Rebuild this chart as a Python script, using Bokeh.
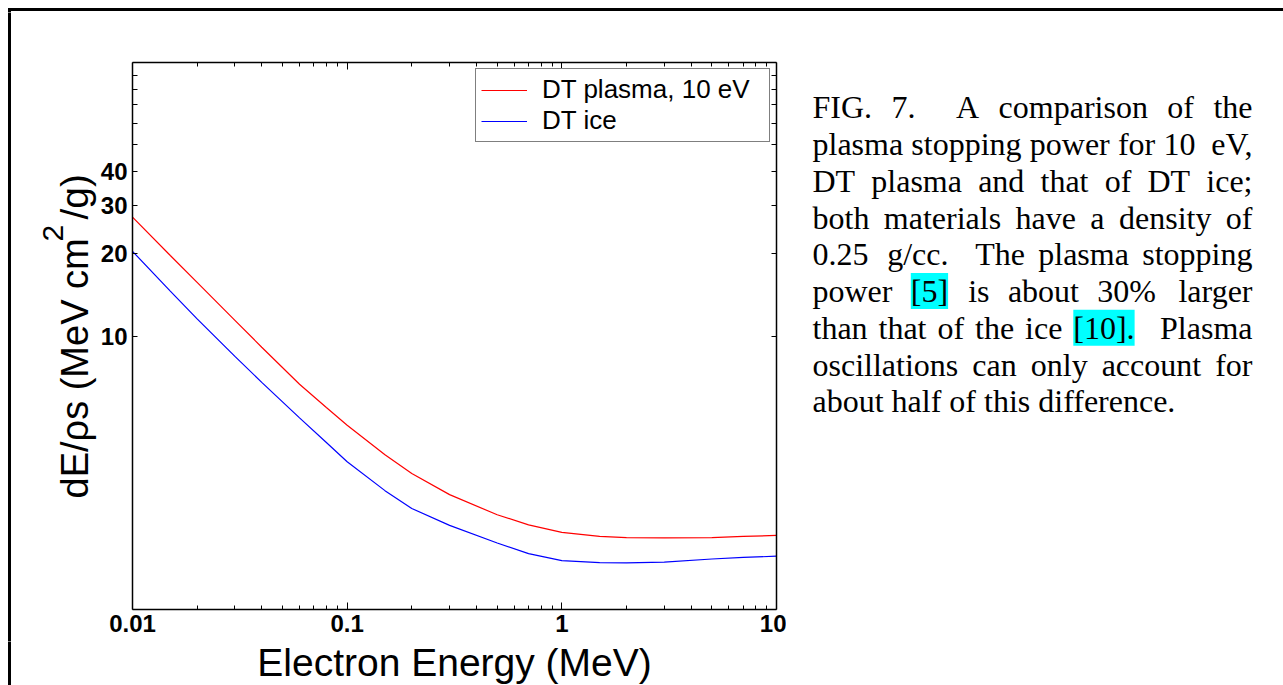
import re

from bokeh.embed import file_html
from bokeh.layouts import column, row
from bokeh.models import FixedTicker, Label, Legend, LegendItem, LogAxis, Range1d
from bokeh.plotting import figure
from bokeh.resources import INLINE

# ---- data: stopping power of DT plasma (10 eV) and DT ice vs electron energy
energy_mev = [0.01, 0.015, 0.02, 0.03, 0.04, 0.06, 0.08, 0.1, 0.15, 0.2,
              0.3, 0.5, 0.7, 1.0, 1.5, 2.0, 3.0, 5.0, 7.0, 10.0]
dt_plasma = [27.2, 19.7, 15.7, 11.4, 9.1, 6.66, 5.48, 4.72, 3.68, 3.14,
             2.63, 2.22, 2.04, 1.915, 1.85, 1.832, 1.828, 1.83, 1.85, 1.865]
dt_ice = [20.4, 14.6, 11.55, 8.42, 6.77, 5.02, 4.08, 3.47, 2.72, 2.34,
          2.03, 1.75, 1.60, 1.51, 1.485, 1.48, 1.49, 1.53, 1.55, 1.566]

series_names = ["DT plasma, 10 eV", "DT ice"]
series_colors = ["#ff0000", "#0000ff"]

x_major_ticks = [0.01, 0.1, 1, 10]
x_tick_labels = ["0.01", "0.1", "1", "10"]
x_minor_ticks = [m * d for d in (0.01, 0.1, 1) for m in range(2, 10)]
y_major_ticks = [10, 20, 30, 40]
y_tick_labels = ["10", "20", "30", "40"]
y_minor_ticks = [50, 60, 70, 80, 90]

x_title = "Electron Energy (MeV)"
y_title_parts = ["dE/\u03c1s (MeV cm", "2", "/g)"]

caption_lines = [
    "FIG. 7.  A comparison of the",
    "plasma stopping power for 10 eV,",
    "DT plasma and that of DT ice;",
    "both materials have a density of",
    "0.25 g/cc.  The plasma stopping",
    "power [5] is about 30% larger",
    "than that of the ice [10].  Plasma",
    "oscillations can only account for",
    "about half of this difference.",
]
highlighted = {"[5]", "[10]."}

# ---- page geometry (pixels, from the top-left corner of the page)
W, H = 1283, 685
TOP_STRIP = 12          # height of the strip holding the top rule
LEFT_W = 97             # width of the strip holding the rule and the y title
MAIN_R = 786            # right edge of the chart panel
BOTTOM_Y = 641          # top of the strip holding the x title
FL, FR, FT, FB = 132, 776, 62, 609   # plot frame
BASELINE_FIX = 0.38     # label anchor -> alphabetic baseline offset, in em

# advance widths (1/1000 em) used to lay text out ourselves
TIMES = {" ": 250, "%": 833, ",": 250, ".": 250, "/": 278, ";": 278, ":": 278,
         "[": 333, "]": 333, "A": 722, "D": 722, "F": 556, "G": 722, "I": 333,
         "P": 556, "T": 611, "V": 722, "a": 444, "b": 500, "c": 444, "d": 500,
         "e": 444, "f": 333, "g": 500, "h": 500, "i": 278, "k": 500, "l": 278,
         "m": 778, "n": 500, "o": 500, "p": 500, "r": 333, "s": 389, "t": 278,
         "u": 500, "v": 500, "w": 722, "x": 500, "y": 500, "z": 444}
ARIAL = {" ": 278, "(": 333, ")": 333, "E": 667, "M": 833, "V": 667, "c": 500,
         "e": 556, "g": 556, "l": 222, "n": 556, "o": 556, "r": 333, "t": 278,
         "y": 500}


def text_w(s, table, size):
    return sum(table.get(c, 556) for c in s) * size / 1000.0


def sheet(x0, x1, y0, y1):
    """A bare figure whose data coordinates are page pixels."""
    s = figure(width=x1 - x0, height=y1 - y0,
               x_range=Range1d(x0, x1), y_range=Range1d(y1, y0),
               min_border=0, x_axis_location=None, y_axis_location=None,
               output_backend="svg", toolbar_location=None,
               outline_line_color=None, background_fill_color="white",
               border_fill_color="white")
    s.grid.visible = False
    return s


def add_text(fig, x, y, text, size, vertical=False, **kw):
    """Place text so that its baseline sits at (x, y) in page pixels."""
    shift = BASELINE_FIX * size
    if vertical:
        x, angle = x - shift, 1.5707963
    else:
        y, angle = y - shift, 0.0
    fig.add_layout(Label(x=x, y=y, text=text, text_color="black", angle=angle,
                         text_font_size=f"{size}px",
                         text_baseline="alphabetic", **kw))


# ---- main chart
p = figure(width=MAIN_R - LEFT_W, height=BOTTOM_Y - TOP_STRIP,
           x_axis_type="log", y_axis_type="log",
           x_range=Range1d(0.01, 10), y_range=Range1d(1, 100),
           min_border_left=FL - LEFT_W, min_border_right=MAIN_R - FR,
           min_border_top=FT - TOP_STRIP, min_border_bottom=BOTTOM_Y - FB,
           output_backend="svg", toolbar_location=None,
           background_fill_color="white", border_fill_color="white",
           outline_line_color=None)
p.grid.visible = False


def style_axis(ax, major, minor, labels, major_in, minor_in, label_size):
    ax.ticker = FixedTicker(ticks=major, minor_ticks=minor)
    ax.axis_line_color = "black"
    ax.axis_line_width = 1.5
    ax.major_tick_in = major_in
    ax.major_tick_out = 0
    ax.minor_tick_in = minor_in
    ax.minor_tick_out = 0
    ax.major_tick_line_color = "black"
    ax.minor_tick_line_color = "black"
    ax.major_label_text_font = "Liberation Sans"
    ax.major_label_text_font_style = "bold"
    ax.major_label_text_color = "black"
    if label_size:
        ax.major_label_text_font_size = f"{label_size}px"
        ax.major_label_overrides = dict(zip(major, labels))
    else:
        ax.major_label_text_font_size = "1px"
        ax.major_label_standoff = 0
        ax.major_label_overrides = {t: "" for t in major}


style_axis(p.xaxis[0], x_major_ticks, x_minor_ticks, x_tick_labels, 7, 4, 24)
p.xaxis[0].major_label_standoff = 5
style_axis(p.yaxis[0], y_major_ticks, y_minor_ticks, y_tick_labels, 5, 5, 24)
p.yaxis[0].major_label_standoff = 5

top_axis = LogAxis()
style_axis(top_axis, x_major_ticks, x_minor_ticks, x_tick_labels, 7, 4, None)
p.add_layout(top_axis, "above")
right_axis = LogAxis()
style_axis(right_axis, y_major_ticks, y_minor_ticks, y_tick_labels, 5, 5, None)
p.add_layout(right_axis, "right")

r_plasma = p.line(energy_mev, dt_plasma, line_color=series_colors[0], line_width=1.2)
r_ice = p.line(energy_mev, dt_ice, line_color=series_colors[1], line_width=1.2)

legend = Legend(items=[LegendItem(label=series_names[0], renderers=[r_plasma]),
                       LegendItem(label=series_names[1], renderers=[r_ice])],
                location="top_right", margin=6, padding=5, spacing=0,
                glyph_width=46, glyph_height=28, label_height=28,
                label_width=222, label_standoff=15,
                label_text_font="Liberation Sans", label_text_font_size="26px",
                label_text_color="black", border_line_color="black",
                border_line_width=1, background_fill_color="white",
                background_fill_alpha=1)
p.add_layout(legend)

# ---- page rule along the top and the left edge
top_fig = sheet(0, W, 0, TOP_STRIP)
top_fig.line([7.5, W + 10], [9, 9], line_color="black", line_width=3)
top_fig.line([9, 9], [7.5, TOP_STRIP + 5], line_color="black", line_width=3)

left_fig = sheet(0, LEFT_W, TOP_STRIP, BOTTOM_Y)
left_fig.line([9, 9], [0, H + 10], line_color="black", line_width=3)

bottom_fig = sheet(0, W, BOTTOM_Y, H)
bottom_fig.line([9, 9], [BOTTOM_Y - 5, H + 10], line_color="black", line_width=3)

# y title, read bottom to top, with a raised exponent
add_text(left_fig, 89, 498, y_title_parts[0], 38, vertical=True,
         text_font="Liberation Sans", text_align="left")
add_text(left_fig, 64, 241, y_title_parts[1], 30, vertical=True,
         text_font="Liberation Sans", text_align="left")
add_text(left_fig, 89, 219, y_title_parts[2], 39, vertical=True,
         text_font="Liberation Sans", text_align="left")

# x title, centred under the frame
X_TITLE_SIZE = 39
add_text(bottom_fig, (FL + FR) / 2 - text_w(x_title, ARIAL, X_TITLE_SIZE) / 2,
         676.4, x_title, X_TITLE_SIZE, text_font="Liberation Sans", text_align="left")

# ---- justified caption, placed word by word with Times metrics
cap_fig = sheet(MAIN_R, W, TOP_STRIP, BOTTOM_Y)
CAP_SIZE = 32
CAP_L, CAP_R = 812, 1252
CAP_TOP_BASE, CAP_PITCH = 119, 36.75

for i, line in enumerate(caption_lines):
    base = CAP_TOP_BASE + i * CAP_PITCH
    parts = re.split(r"( +)", line)
    words = parts[0::2]
    gaps = [len(g) for g in parts[1::2]]
    last_line = i == len(caption_lines) - 1
    if last_line:
        unit = TIMES[" "] * CAP_SIZE / 1000.0
    else:
        unit = (CAP_R - CAP_L - sum(text_w(w, TIMES, CAP_SIZE) for w in words)) / sum(gaps)
    x = CAP_L
    for j, w in enumerate(words):
        kw = dict(text_font="Liberation Serif")
        if w in highlighted:
            kw.update(background_fill_color="#00ffff", background_fill_alpha=1)
        if j == len(words) - 1 and not last_line:
            add_text(cap_fig, CAP_R, base, w, CAP_SIZE, text_align="right", **kw)
        else:
            add_text(cap_fig, x, base, w, CAP_SIZE, text_align="left", **kw)
        if j < len(gaps):
            x += text_w(w, TIMES, CAP_SIZE) + gaps[j] * unit

# the chart sits in its own column so that its frame is not aligned with
# the frames of the neighbouring text sheets
page = column(top_fig,
              row(left_fig, column(p, spacing=0), cap_fig, spacing=0),
              bottom_fig,
              spacing=0)

open("out.html", "w").write(file_html(page, INLINE))
